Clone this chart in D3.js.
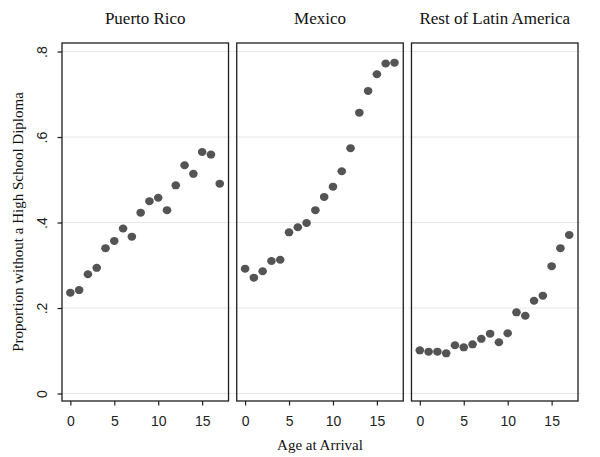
<!DOCTYPE html>
<html><head><meta charset="utf-8">
<script src="https://cdn.jsdelivr.net/npm/d3@7"></script>
<style>body{margin:0;background:#fff}svg{display:block}</style>
</head><body>
<svg id="c" width="600" height="457"></svg>
<script>
const panels = ["Puerto Rico", "Mexico", "Rest of Latin America"];
const ages = [0,1,2,3,4,5,6,7,8,9,10,11,12,13,14,15,16,17];
const puertoRico = [0.236,0.242,0.279,0.294,0.340,0.357,0.386,0.367,0.423,0.450,0.458,0.429,0.487,0.534,0.514,0.565,0.559,0.491];
const mexico = [0.292,0.271,0.286,0.310,0.313,0.377,0.389,0.399,0.429,0.460,0.484,0.520,0.574,0.657,0.708,0.747,0.772,0.774];
const restLatAm = [0.101,0.098,0.098,0.094,0.113,0.108,0.115,0.128,0.140,0.120,0.141,0.190,0.182,0.217,0.229,0.298,0.340,0.371];
const seriesList = [puertoRico, mexico, restLatAm];
const xTicks = [0,5,10,15];
const yTicks = [0,0.2,0.4,0.6,0.8];
const yTickLabels = ["0",".2",".4",".6",".8"];

const svg = d3.select("#c");
const band = d3.scaleBand().domain(panels).range([62, 578]).paddingInner(0.047);
const y = d3.scaleLinear().domain([-0.0175, 0.82]).range([401, 43]);
const serif = "'Liberation Serif','Times New Roman',serif";
const sans = "'Liberation Sans',Arial,sans-serif";

panels.forEach((name, i) => {
  const x0 = band(name), w = band.bandwidth();
  const x = d3.scaleLinear().domain([-0.95, 18]).range([x0, x0 + w]);
  const g = svg.append("g");
  g.selectAll("line.grid").data(yTicks).join("line")
    .attr("x1", x0 - 3).attr("x2", x0 + w + 3)
    .attr("y1", d => y(d)).attr("y2", d => y(d))
    .attr("stroke", "#e6e6e6").attr("stroke-width", 1);
  g.selectAll("ellipse").data(ages.map((a, j) => [a, seriesList[i][j]])).join("ellipse")
    .attr("cx", d => x(d[0])).attr("cy", d => y(d[1]))
    .attr("rx", 4.3).attr("ry", 4).attr("fill", "#545454");
  g.append("rect").attr("x", x0).attr("y", y.range()[1]).attr("width", w)
    .attr("height", y.range()[0] - y.range()[1])
    .attr("fill", "none").attr("stroke", "#1e1e1e").attr("stroke-width", 1.3);
  const xa = d3.axisBottom(x).tickValues(xTicks).tickSize(4.5).tickPadding(11).tickFormat(d3.format("d"));
  const ax = g.append("g").attr("transform", `translate(0,${y.range()[0]})`).call(xa);
  ax.select(".domain").remove();
  ax.selectAll("line").attr("stroke", "#1e1e1e").attr("stroke-width", 1.2);
  ax.selectAll("text").attr("font-family", sans).attr("font-size", 14).attr("fill", "#222");
  g.append("text").attr("x", x0 + w / 2).attr("y", 23.5).attr("text-anchor", "middle")
    .attr("font-family", serif).attr("font-size", 17).attr("fill", "#111").text(name);
  if (i === 0) {
    const ya = d3.axisLeft(y).tickValues(yTicks).tickSize(4.5).tickPadding(0).tickFormat((d, k) => yTickLabels[k]);
    const ay = g.append("g").attr("transform", `translate(${x0},0)`).call(ya);
    ay.select(".domain").remove();
    ay.selectAll("line").attr("stroke", "#1e1e1e").attr("stroke-width", 1.2);
    ay.selectAll("text").attr("font-family", sans).attr("font-size", 14).attr("fill", "#222")
      .attr("text-anchor", "middle").attr("x", 0).attr("dy", 0)
      .attr("transform", "translate(-15,0) rotate(-90)");
  }
});

svg.append("text").attr("x", (band(panels[0]) + band(panels[2]) + band.bandwidth()) / 2).attr("y", 450)
  .attr("text-anchor", "middle").attr("font-family", serif).attr("font-size", 15).attr("fill", "#111")
  .text("Age at Arrival");
svg.append("text").attr("transform", `translate(23,${(y.range()[0] + y.range()[1]) / 2}) rotate(-90)`)
  .attr("text-anchor", "middle").attr("font-family", serif).attr("font-size", 15).attr("fill", "#111")
  .text("Proportion without a High School Diploma");
</script>
</body></html>
